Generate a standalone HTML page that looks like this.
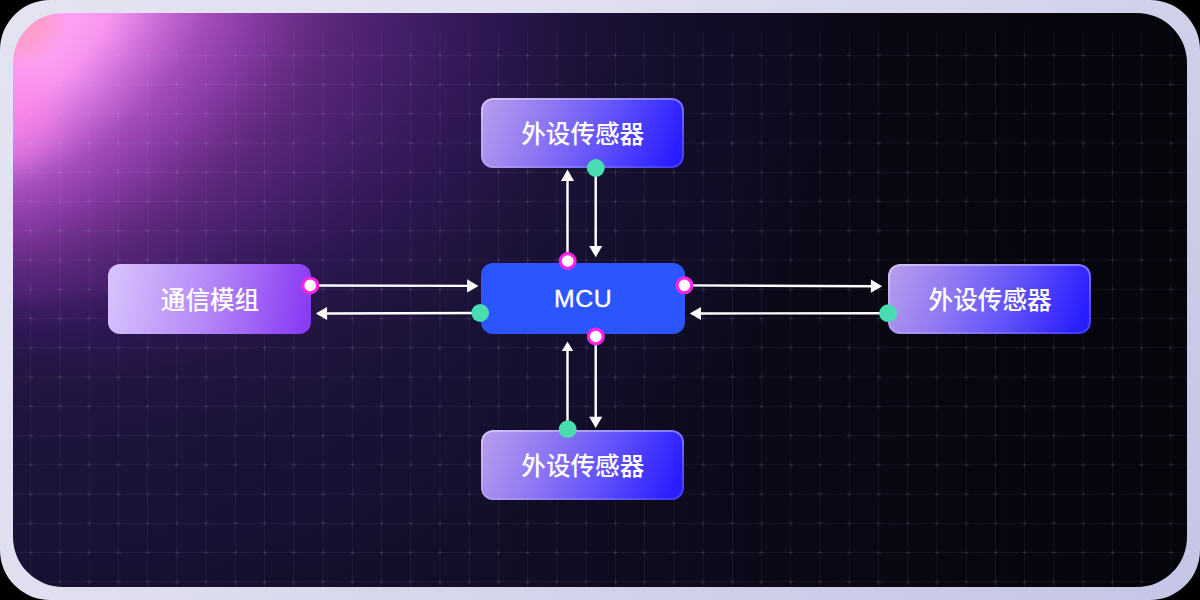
<!DOCTYPE html>
<html lang="zh"><head><meta charset="utf-8"><title>MCU diagram</title>
<style>
html,body{margin:0;padding:0;background:#000;}
body{width:1200px;height:600px;overflow:hidden;position:relative;font-family:"Liberation Sans",sans-serif;}
.frame{position:absolute;left:0;top:0;width:1200px;height:600px;border-radius:50px;background:linear-gradient(130deg,#E3E3F2 0%,#DFDFF0 35%,#D0D0EA 70%,#C5C5E6 100%);}
.inner{position:absolute;left:13px;top:13px;width:1174px;height:574px;border-radius:44px;overflow:hidden;isolation:isolate;background:linear-gradient(90deg,#17102F 0%,#120E27 40%,#090814 70%,#05050C 100%);}
.g1{position:absolute;left:0;top:0;width:1174px;height:574px;mix-blend-mode:screen;background:linear-gradient(90deg,#FD9AEF 0px,#FD9AEF 64px,#F68EEA 97px,#E47DE2 117px,#D36ED8 133px,#C35ECC 151px,#9B40AD 195px,#7E2F94 238px,#622274 282px,#4A195C 325px,#3D1353 367px,#321149 400px,#270D3D 437px,#19082D 500px,#0E0519 567px,#080412 637px,#05030D 686px,#04020B 767px,#000000 845px),linear-gradient(100deg,#FD9AEF 0px,#FD9AEF 63px,#F68EEA 96px,#E47DE2 115px,#D36ED8 131px,#C35ECC 149px,#9B40AD 192px,#7E2F94 235px,#622274 278px,#4A195C 321px,#3D1353 363px,#321149 395px,#270D3D 433px,#19082D 496px,#0E0519 565px,#080412 635px,#05030D 683px,#04020B 765px,#000000 843px),linear-gradient(110deg,#FD9AEF 0px,#FD9AEF 61px,#F68EEA 92px,#E47DE2 110px,#D36ED8 126px,#C35ECC 142px,#9B40AD 184px,#7E2F94 226px,#622274 267px,#4A195C 310px,#3D1353 351px,#321149 383px,#270D3D 420px,#19082D 484px,#0E0519 554px,#080412 624px,#05030D 672px,#04020B 753px,#000000 831px),linear-gradient(120deg,#FD9AEF 0px,#FD9AEF 57px,#F68EEA 86px,#E47DE2 103px,#D36ED8 117px,#C35ECC 133px,#9B40AD 172px,#7E2F94 213px,#622274 253px,#4A195C 294px,#3D1353 334px,#321149 365px,#270D3D 401px,#19082D 464px,#0E0519 535px,#080412 604px,#05030D 651px,#04020B 731px,#000000 808px),linear-gradient(130deg,#FD9AEF 0px,#FD9AEF 54px,#F68EEA 81px,#E47DE2 97px,#D36ED8 111px,#C35ECC 126px,#9B40AD 162px,#7E2F94 202px,#622274 239px,#4A195C 278px,#3D1353 316px,#321149 344px,#270D3D 378px,#19082D 438px,#0E0519 508px,#080412 575px,#05030D 622px,#04020B 700px,#000000 775px),linear-gradient(140deg,#FD9AEF 0px,#FD9AEF 54px,#F68EEA 81px,#E47DE2 97px,#D36ED8 111px,#C35ECC 126px,#9B40AD 158px,#7E2F94 194px,#622274 229px,#4A195C 265px,#3D1353 298px,#321149 323px,#270D3D 353px,#19082D 407px,#0E0519 476px,#080412 541px,#05030D 585px,#04020B 661px,#000000 735px),linear-gradient(150deg,#FD9AEF 0px,#FD9AEF 57px,#F68EEA 86px,#E47DE2 103px,#D36ED8 117px,#C35ECC 133px,#9B40AD 163px,#7E2F94 194px,#622274 226px,#4A195C 257px,#3D1353 285px,#321149 306px,#270D3D 330px,#19082D 376px,#0E0519 440px,#080412 503px,#05030D 545px,#04020B 618px,#000000 689px),linear-gradient(160deg,#FD9AEF 0px,#FD9AEF 61px,#F68EEA 92px,#E47DE2 110px,#D36ED8 126px,#C35ECC 142px,#9B40AD 171px,#7E2F94 200px,#622274 228px,#4A195C 255px,#3D1353 279px,#321149 293px,#270D3D 311px,#19082D 348px,#0E0519 405px,#080412 465px,#05030D 506px,#04020B 576px,#000000 645px),linear-gradient(170deg,#FD9AEF 0px,#FD9AEF 63px,#F68EEA 96px,#E47DE2 115px,#D36ED8 131px,#C35ECC 149px,#9B40AD 179px,#7E2F94 206px,#622274 234px,#4A195C 258px,#3D1353 278px,#321149 288px,#270D3D 300px,#19082D 328px,#0E0519 377px,#080412 435px,#05030D 474px,#04020B 542px,#000000 609px),linear-gradient(180deg,#FD9AEF 0px,#FD9AEF 64px,#F68EEA 97px,#E47DE2 117px,#D36ED8 133px,#C35ECC 151px,#9B40AD 181px,#7E2F94 208px,#622274 236px,#4A195C 260px,#3D1353 279px,#321149 288px,#270D3D 297px,#19082D 320px,#0E0519 363px,#080412 420px,#05030D 459px,#04020B 525px,#000000 592px);background-blend-mode:darken;}
.g3{position:absolute;left:-45px;top:-45px;width:100px;height:100px;background:radial-gradient(closest-side,rgba(255,155,188,.9) 0%,rgba(255,155,190,.6) 55%,rgba(255,155,200,0) 100%);}
.g4{position:absolute;left:-60px;top:42px;width:120px;height:120px;background:radial-gradient(closest-side,rgba(255,120,225,.5) 0%,rgba(255,120,225,.3) 50%,rgba(255,120,225,0) 100%);}
.node{position:absolute;box-sizing:border-box;border-radius:12px;color:transparent;font-size:24px;line-height:70px;text-align:center;overflow:hidden;white-space:nowrap;}
.sensor{background:linear-gradient(111deg,#B89EED 0%,#9279F3 30%,#6152FA 60%,#2A1EFF 93%);}
.sensor::before{content:"";position:absolute;left:0;top:0;right:0;bottom:0;border-radius:12px;padding:2px;background:linear-gradient(180deg,rgba(255,255,255,.38),rgba(255,255,255,.22) 50%,rgba(255,255,255,.13));-webkit-mask:linear-gradient(#000 0 0) content-box,linear-gradient(#000 0 0);-webkit-mask-composite:xor;mask-composite:exclude;}
.comm{background:linear-gradient(100deg,#D8C5FC 0%,#B386F8 50%,#8736F4 100%);}
.mcu{background:#2A55FF;color:#fff;}
svg{position:absolute;left:0;top:0;}
</style></head><body>
<div class="frame">
<div class="inner"><div class="g1"></div><div class="g4"></div><div class="g3"></div></div>
<svg width="1200" height="600" viewBox="0 0 1200 600"><defs><clipPath id="c"><rect x="13" y="13" width="1174" height="574" rx="44"/></clipPath></defs><g clip-path="url(#c)"><path d="M30.70 31V587M59.94 31V587M89.17 31V587M118.41 31V587M147.64 31V587M176.88 31V587M206.11 31V587M235.35 31V587M264.58 31V587M293.82 31V587M323.05 31V587M352.29 31V587M381.52 31V587M410.76 31V587M439.99 31V587M469.23 31V587M498.46 31V587M527.70 31V587M556.93 31V587M586.17 31V587M615.40 31V587M644.64 31V587M673.87 31V587M703.11 31V587M732.34 31V587M761.58 31V587M790.81 31V587M820.05 31V587M849.28 31V587M878.52 31V587M907.75 31V587M936.99 31V587M966.22 31V587M995.46 31V587M1024.69 31V587M1053.93 31V587M1083.16 31V587M1112.39 31V587M1141.63 31V587M1170.86 31V587M13 55.30H1187M13 84.55H1187M13 113.80H1187M13 143.05H1187M13 172.30H1187M13 201.55H1187M13 230.80H1187M13 260.05H1187M13 289.30H1187M13 318.55H1187M13 347.80H1187M13 377.05H1187M13 406.30H1187M13 435.55H1187M13 464.80H1187M13 494.05H1187M13 523.30H1187M13 552.55H1187M13 581.80H1187" stroke="#BEB9DC" stroke-opacity="0.065" stroke-width="1" fill="none"/><path d="M28.10 55.30h5.2M30.70 52.70v5.2M28.10 84.55h5.2M30.70 81.95v5.2M28.10 113.80h5.2M30.70 111.20v5.2M28.10 143.05h5.2M30.70 140.45v5.2M28.10 172.30h5.2M30.70 169.70v5.2M28.10 201.55h5.2M30.70 198.95v5.2M28.10 230.80h5.2M30.70 228.20v5.2M28.10 260.05h5.2M30.70 257.45v5.2M28.10 289.30h5.2M30.70 286.70v5.2M28.10 318.55h5.2M30.70 315.95v5.2M28.10 347.80h5.2M30.70 345.20v5.2M28.10 377.05h5.2M30.70 374.45v5.2M28.10 406.30h5.2M30.70 403.70v5.2M28.10 435.55h5.2M30.70 432.95v5.2M28.10 464.80h5.2M30.70 462.20v5.2M28.10 494.05h5.2M30.70 491.45v5.2M28.10 523.30h5.2M30.70 520.70v5.2M28.10 552.55h5.2M30.70 549.95v5.2M28.10 581.80h5.2M30.70 579.20v5.2M57.34 55.30h5.2M59.94 52.70v5.2M57.34 84.55h5.2M59.94 81.95v5.2M57.34 113.80h5.2M59.94 111.20v5.2M57.34 143.05h5.2M59.94 140.45v5.2M57.34 172.30h5.2M59.94 169.70v5.2M57.34 201.55h5.2M59.94 198.95v5.2M57.34 230.80h5.2M59.94 228.20v5.2M57.34 260.05h5.2M59.94 257.45v5.2M57.34 289.30h5.2M59.94 286.70v5.2M57.34 318.55h5.2M59.94 315.95v5.2M57.34 347.80h5.2M59.94 345.20v5.2M57.34 377.05h5.2M59.94 374.45v5.2M57.34 406.30h5.2M59.94 403.70v5.2M57.34 435.55h5.2M59.94 432.95v5.2M57.34 464.80h5.2M59.94 462.20v5.2M57.34 494.05h5.2M59.94 491.45v5.2M57.34 523.30h5.2M59.94 520.70v5.2M57.34 552.55h5.2M59.94 549.95v5.2M57.34 581.80h5.2M59.94 579.20v5.2M86.57 55.30h5.2M89.17 52.70v5.2M86.57 84.55h5.2M89.17 81.95v5.2M86.57 113.80h5.2M89.17 111.20v5.2M86.57 143.05h5.2M89.17 140.45v5.2M86.57 172.30h5.2M89.17 169.70v5.2M86.57 201.55h5.2M89.17 198.95v5.2M86.57 230.80h5.2M89.17 228.20v5.2M86.57 260.05h5.2M89.17 257.45v5.2M86.57 289.30h5.2M89.17 286.70v5.2M86.57 318.55h5.2M89.17 315.95v5.2M86.57 347.80h5.2M89.17 345.20v5.2M86.57 377.05h5.2M89.17 374.45v5.2M86.57 406.30h5.2M89.17 403.70v5.2M86.57 435.55h5.2M89.17 432.95v5.2M86.57 464.80h5.2M89.17 462.20v5.2M86.57 494.05h5.2M89.17 491.45v5.2M86.57 523.30h5.2M89.17 520.70v5.2M86.57 552.55h5.2M89.17 549.95v5.2M86.57 581.80h5.2M89.17 579.20v5.2M115.81 55.30h5.2M118.41 52.70v5.2M115.81 84.55h5.2M118.41 81.95v5.2M115.81 113.80h5.2M118.41 111.20v5.2M115.81 143.05h5.2M118.41 140.45v5.2M115.81 172.30h5.2M118.41 169.70v5.2M115.81 201.55h5.2M118.41 198.95v5.2M115.81 230.80h5.2M118.41 228.20v5.2M115.81 260.05h5.2M118.41 257.45v5.2M115.81 289.30h5.2M118.41 286.70v5.2M115.81 318.55h5.2M118.41 315.95v5.2M115.81 347.80h5.2M118.41 345.20v5.2M115.81 377.05h5.2M118.41 374.45v5.2M115.81 406.30h5.2M118.41 403.70v5.2M115.81 435.55h5.2M118.41 432.95v5.2M115.81 464.80h5.2M118.41 462.20v5.2M115.81 494.05h5.2M118.41 491.45v5.2M115.81 523.30h5.2M118.41 520.70v5.2M115.81 552.55h5.2M118.41 549.95v5.2M115.81 581.80h5.2M118.41 579.20v5.2M145.04 55.30h5.2M147.64 52.70v5.2M145.04 84.55h5.2M147.64 81.95v5.2M145.04 113.80h5.2M147.64 111.20v5.2M145.04 143.05h5.2M147.64 140.45v5.2M145.04 172.30h5.2M147.64 169.70v5.2M145.04 201.55h5.2M147.64 198.95v5.2M145.04 230.80h5.2M147.64 228.20v5.2M145.04 260.05h5.2M147.64 257.45v5.2M145.04 289.30h5.2M147.64 286.70v5.2M145.04 318.55h5.2M147.64 315.95v5.2M145.04 347.80h5.2M147.64 345.20v5.2M145.04 377.05h5.2M147.64 374.45v5.2M145.04 406.30h5.2M147.64 403.70v5.2M145.04 435.55h5.2M147.64 432.95v5.2M145.04 464.80h5.2M147.64 462.20v5.2M145.04 494.05h5.2M147.64 491.45v5.2M145.04 523.30h5.2M147.64 520.70v5.2M145.04 552.55h5.2M147.64 549.95v5.2M145.04 581.80h5.2M147.64 579.20v5.2M174.28 55.30h5.2M176.88 52.70v5.2M174.28 84.55h5.2M176.88 81.95v5.2M174.28 113.80h5.2M176.88 111.20v5.2M174.28 143.05h5.2M176.88 140.45v5.2M174.28 172.30h5.2M176.88 169.70v5.2M174.28 201.55h5.2M176.88 198.95v5.2M174.28 230.80h5.2M176.88 228.20v5.2M174.28 260.05h5.2M176.88 257.45v5.2M174.28 289.30h5.2M176.88 286.70v5.2M174.28 318.55h5.2M176.88 315.95v5.2M174.28 347.80h5.2M176.88 345.20v5.2M174.28 377.05h5.2M176.88 374.45v5.2M174.28 406.30h5.2M176.88 403.70v5.2M174.28 435.55h5.2M176.88 432.95v5.2M174.28 464.80h5.2M176.88 462.20v5.2M174.28 494.05h5.2M176.88 491.45v5.2M174.28 523.30h5.2M176.88 520.70v5.2M174.28 552.55h5.2M176.88 549.95v5.2M174.28 581.80h5.2M176.88 579.20v5.2M203.51 55.30h5.2M206.11 52.70v5.2M203.51 84.55h5.2M206.11 81.95v5.2M203.51 113.80h5.2M206.11 111.20v5.2M203.51 143.05h5.2M206.11 140.45v5.2M203.51 172.30h5.2M206.11 169.70v5.2M203.51 201.55h5.2M206.11 198.95v5.2M203.51 230.80h5.2M206.11 228.20v5.2M203.51 260.05h5.2M206.11 257.45v5.2M203.51 289.30h5.2M206.11 286.70v5.2M203.51 318.55h5.2M206.11 315.95v5.2M203.51 347.80h5.2M206.11 345.20v5.2M203.51 377.05h5.2M206.11 374.45v5.2M203.51 406.30h5.2M206.11 403.70v5.2M203.51 435.55h5.2M206.11 432.95v5.2M203.51 464.80h5.2M206.11 462.20v5.2M203.51 494.05h5.2M206.11 491.45v5.2M203.51 523.30h5.2M206.11 520.70v5.2M203.51 552.55h5.2M206.11 549.95v5.2M203.51 581.80h5.2M206.11 579.20v5.2M232.75 55.30h5.2M235.35 52.70v5.2M232.75 84.55h5.2M235.35 81.95v5.2M232.75 113.80h5.2M235.35 111.20v5.2M232.75 143.05h5.2M235.35 140.45v5.2M232.75 172.30h5.2M235.35 169.70v5.2M232.75 201.55h5.2M235.35 198.95v5.2M232.75 230.80h5.2M235.35 228.20v5.2M232.75 260.05h5.2M235.35 257.45v5.2M232.75 289.30h5.2M235.35 286.70v5.2M232.75 318.55h5.2M235.35 315.95v5.2M232.75 347.80h5.2M235.35 345.20v5.2M232.75 377.05h5.2M235.35 374.45v5.2M232.75 406.30h5.2M235.35 403.70v5.2M232.75 435.55h5.2M235.35 432.95v5.2M232.75 464.80h5.2M235.35 462.20v5.2M232.75 494.05h5.2M235.35 491.45v5.2M232.75 523.30h5.2M235.35 520.70v5.2M232.75 552.55h5.2M235.35 549.95v5.2M232.75 581.80h5.2M235.35 579.20v5.2M261.98 55.30h5.2M264.58 52.70v5.2M261.98 84.55h5.2M264.58 81.95v5.2M261.98 113.80h5.2M264.58 111.20v5.2M261.98 143.05h5.2M264.58 140.45v5.2M261.98 172.30h5.2M264.58 169.70v5.2M261.98 201.55h5.2M264.58 198.95v5.2M261.98 230.80h5.2M264.58 228.20v5.2M261.98 260.05h5.2M264.58 257.45v5.2M261.98 289.30h5.2M264.58 286.70v5.2M261.98 318.55h5.2M264.58 315.95v5.2M261.98 347.80h5.2M264.58 345.20v5.2M261.98 377.05h5.2M264.58 374.45v5.2M261.98 406.30h5.2M264.58 403.70v5.2M261.98 435.55h5.2M264.58 432.95v5.2M261.98 464.80h5.2M264.58 462.20v5.2M261.98 494.05h5.2M264.58 491.45v5.2M261.98 523.30h5.2M264.58 520.70v5.2M261.98 552.55h5.2M264.58 549.95v5.2M261.98 581.80h5.2M264.58 579.20v5.2M291.22 55.30h5.2M293.82 52.70v5.2M291.22 84.55h5.2M293.82 81.95v5.2M291.22 113.80h5.2M293.82 111.20v5.2M291.22 143.05h5.2M293.82 140.45v5.2M291.22 172.30h5.2M293.82 169.70v5.2M291.22 201.55h5.2M293.82 198.95v5.2M291.22 230.80h5.2M293.82 228.20v5.2M291.22 260.05h5.2M293.82 257.45v5.2M291.22 289.30h5.2M293.82 286.70v5.2M291.22 318.55h5.2M293.82 315.95v5.2M291.22 347.80h5.2M293.82 345.20v5.2M291.22 377.05h5.2M293.82 374.45v5.2M291.22 406.30h5.2M293.82 403.70v5.2M291.22 435.55h5.2M293.82 432.95v5.2M291.22 464.80h5.2M293.82 462.20v5.2M291.22 494.05h5.2M293.82 491.45v5.2M291.22 523.30h5.2M293.82 520.70v5.2M291.22 552.55h5.2M293.82 549.95v5.2M291.22 581.80h5.2M293.82 579.20v5.2M320.45 55.30h5.2M323.05 52.70v5.2M320.45 84.55h5.2M323.05 81.95v5.2M320.45 113.80h5.2M323.05 111.20v5.2M320.45 143.05h5.2M323.05 140.45v5.2M320.45 172.30h5.2M323.05 169.70v5.2M320.45 201.55h5.2M323.05 198.95v5.2M320.45 230.80h5.2M323.05 228.20v5.2M320.45 260.05h5.2M323.05 257.45v5.2M320.45 289.30h5.2M323.05 286.70v5.2M320.45 318.55h5.2M323.05 315.95v5.2M320.45 347.80h5.2M323.05 345.20v5.2M320.45 377.05h5.2M323.05 374.45v5.2M320.45 406.30h5.2M323.05 403.70v5.2M320.45 435.55h5.2M323.05 432.95v5.2M320.45 464.80h5.2M323.05 462.20v5.2M320.45 494.05h5.2M323.05 491.45v5.2M320.45 523.30h5.2M323.05 520.70v5.2M320.45 552.55h5.2M323.05 549.95v5.2M320.45 581.80h5.2M323.05 579.20v5.2M349.69 55.30h5.2M352.29 52.70v5.2M349.69 84.55h5.2M352.29 81.95v5.2M349.69 113.80h5.2M352.29 111.20v5.2M349.69 143.05h5.2M352.29 140.45v5.2M349.69 172.30h5.2M352.29 169.70v5.2M349.69 201.55h5.2M352.29 198.95v5.2M349.69 230.80h5.2M352.29 228.20v5.2M349.69 260.05h5.2M352.29 257.45v5.2M349.69 289.30h5.2M352.29 286.70v5.2M349.69 318.55h5.2M352.29 315.95v5.2M349.69 347.80h5.2M352.29 345.20v5.2M349.69 377.05h5.2M352.29 374.45v5.2M349.69 406.30h5.2M352.29 403.70v5.2M349.69 435.55h5.2M352.29 432.95v5.2M349.69 464.80h5.2M352.29 462.20v5.2M349.69 494.05h5.2M352.29 491.45v5.2M349.69 523.30h5.2M352.29 520.70v5.2M349.69 552.55h5.2M352.29 549.95v5.2M349.69 581.80h5.2M352.29 579.20v5.2M378.92 55.30h5.2M381.52 52.70v5.2M378.92 84.55h5.2M381.52 81.95v5.2M378.92 113.80h5.2M381.52 111.20v5.2M378.92 143.05h5.2M381.52 140.45v5.2M378.92 172.30h5.2M381.52 169.70v5.2M378.92 201.55h5.2M381.52 198.95v5.2M378.92 230.80h5.2M381.52 228.20v5.2M378.92 260.05h5.2M381.52 257.45v5.2M378.92 289.30h5.2M381.52 286.70v5.2M378.92 318.55h5.2M381.52 315.95v5.2M378.92 347.80h5.2M381.52 345.20v5.2M378.92 377.05h5.2M381.52 374.45v5.2M378.92 406.30h5.2M381.52 403.70v5.2M378.92 435.55h5.2M381.52 432.95v5.2M378.92 464.80h5.2M381.52 462.20v5.2M378.92 494.05h5.2M381.52 491.45v5.2M378.92 523.30h5.2M381.52 520.70v5.2M378.92 552.55h5.2M381.52 549.95v5.2M378.92 581.80h5.2M381.52 579.20v5.2M408.16 55.30h5.2M410.76 52.70v5.2M408.16 84.55h5.2M410.76 81.95v5.2M408.16 113.80h5.2M410.76 111.20v5.2M408.16 143.05h5.2M410.76 140.45v5.2M408.16 172.30h5.2M410.76 169.70v5.2M408.16 201.55h5.2M410.76 198.95v5.2M408.16 230.80h5.2M410.76 228.20v5.2M408.16 260.05h5.2M410.76 257.45v5.2M408.16 289.30h5.2M410.76 286.70v5.2M408.16 318.55h5.2M410.76 315.95v5.2M408.16 347.80h5.2M410.76 345.20v5.2M408.16 377.05h5.2M410.76 374.45v5.2M408.16 406.30h5.2M410.76 403.70v5.2M408.16 435.55h5.2M410.76 432.95v5.2M408.16 464.80h5.2M410.76 462.20v5.2M408.16 494.05h5.2M410.76 491.45v5.2M408.16 523.30h5.2M410.76 520.70v5.2M408.16 552.55h5.2M410.76 549.95v5.2M408.16 581.80h5.2M410.76 579.20v5.2M437.39 55.30h5.2M439.99 52.70v5.2M437.39 84.55h5.2M439.99 81.95v5.2M437.39 113.80h5.2M439.99 111.20v5.2M437.39 143.05h5.2M439.99 140.45v5.2M437.39 172.30h5.2M439.99 169.70v5.2M437.39 201.55h5.2M439.99 198.95v5.2M437.39 230.80h5.2M439.99 228.20v5.2M437.39 260.05h5.2M439.99 257.45v5.2M437.39 289.30h5.2M439.99 286.70v5.2M437.39 318.55h5.2M439.99 315.95v5.2M437.39 347.80h5.2M439.99 345.20v5.2M437.39 377.05h5.2M439.99 374.45v5.2M437.39 406.30h5.2M439.99 403.70v5.2M437.39 435.55h5.2M439.99 432.95v5.2M437.39 464.80h5.2M439.99 462.20v5.2M437.39 494.05h5.2M439.99 491.45v5.2M437.39 523.30h5.2M439.99 520.70v5.2M437.39 552.55h5.2M439.99 549.95v5.2M437.39 581.80h5.2M439.99 579.20v5.2M466.63 55.30h5.2M469.23 52.70v5.2M466.63 84.55h5.2M469.23 81.95v5.2M466.63 113.80h5.2M469.23 111.20v5.2M466.63 143.05h5.2M469.23 140.45v5.2M466.63 172.30h5.2M469.23 169.70v5.2M466.63 201.55h5.2M469.23 198.95v5.2M466.63 230.80h5.2M469.23 228.20v5.2M466.63 260.05h5.2M469.23 257.45v5.2M466.63 289.30h5.2M469.23 286.70v5.2M466.63 318.55h5.2M469.23 315.95v5.2M466.63 347.80h5.2M469.23 345.20v5.2M466.63 377.05h5.2M469.23 374.45v5.2M466.63 406.30h5.2M469.23 403.70v5.2M466.63 435.55h5.2M469.23 432.95v5.2M466.63 464.80h5.2M469.23 462.20v5.2M466.63 494.05h5.2M469.23 491.45v5.2M466.63 523.30h5.2M469.23 520.70v5.2M466.63 552.55h5.2M469.23 549.95v5.2M466.63 581.80h5.2M469.23 579.20v5.2M495.86 55.30h5.2M498.46 52.70v5.2M495.86 84.55h5.2M498.46 81.95v5.2M495.86 113.80h5.2M498.46 111.20v5.2M495.86 143.05h5.2M498.46 140.45v5.2M495.86 172.30h5.2M498.46 169.70v5.2M495.86 201.55h5.2M498.46 198.95v5.2M495.86 230.80h5.2M498.46 228.20v5.2M495.86 260.05h5.2M498.46 257.45v5.2M495.86 289.30h5.2M498.46 286.70v5.2M495.86 318.55h5.2M498.46 315.95v5.2M495.86 347.80h5.2M498.46 345.20v5.2M495.86 377.05h5.2M498.46 374.45v5.2M495.86 406.30h5.2M498.46 403.70v5.2M495.86 435.55h5.2M498.46 432.95v5.2M495.86 464.80h5.2M498.46 462.20v5.2M495.86 494.05h5.2M498.46 491.45v5.2M495.86 523.30h5.2M498.46 520.70v5.2M495.86 552.55h5.2M498.46 549.95v5.2M495.86 581.80h5.2M498.46 579.20v5.2M525.10 55.30h5.2M527.70 52.70v5.2M525.10 84.55h5.2M527.70 81.95v5.2M525.10 113.80h5.2M527.70 111.20v5.2M525.10 143.05h5.2M527.70 140.45v5.2M525.10 172.30h5.2M527.70 169.70v5.2M525.10 201.55h5.2M527.70 198.95v5.2M525.10 230.80h5.2M527.70 228.20v5.2M525.10 260.05h5.2M527.70 257.45v5.2M525.10 289.30h5.2M527.70 286.70v5.2M525.10 318.55h5.2M527.70 315.95v5.2M525.10 347.80h5.2M527.70 345.20v5.2M525.10 377.05h5.2M527.70 374.45v5.2M525.10 406.30h5.2M527.70 403.70v5.2M525.10 435.55h5.2M527.70 432.95v5.2M525.10 464.80h5.2M527.70 462.20v5.2M525.10 494.05h5.2M527.70 491.45v5.2M525.10 523.30h5.2M527.70 520.70v5.2M525.10 552.55h5.2M527.70 549.95v5.2M525.10 581.80h5.2M527.70 579.20v5.2M554.33 55.30h5.2M556.93 52.70v5.2M554.33 84.55h5.2M556.93 81.95v5.2M554.33 113.80h5.2M556.93 111.20v5.2M554.33 143.05h5.2M556.93 140.45v5.2M554.33 172.30h5.2M556.93 169.70v5.2M554.33 201.55h5.2M556.93 198.95v5.2M554.33 230.80h5.2M556.93 228.20v5.2M554.33 260.05h5.2M556.93 257.45v5.2M554.33 289.30h5.2M556.93 286.70v5.2M554.33 318.55h5.2M556.93 315.95v5.2M554.33 347.80h5.2M556.93 345.20v5.2M554.33 377.05h5.2M556.93 374.45v5.2M554.33 406.30h5.2M556.93 403.70v5.2M554.33 435.55h5.2M556.93 432.95v5.2M554.33 464.80h5.2M556.93 462.20v5.2M554.33 494.05h5.2M556.93 491.45v5.2M554.33 523.30h5.2M556.93 520.70v5.2M554.33 552.55h5.2M556.93 549.95v5.2M554.33 581.80h5.2M556.93 579.20v5.2M583.57 55.30h5.2M586.17 52.70v5.2M583.57 84.55h5.2M586.17 81.95v5.2M583.57 113.80h5.2M586.17 111.20v5.2M583.57 143.05h5.2M586.17 140.45v5.2M583.57 172.30h5.2M586.17 169.70v5.2M583.57 201.55h5.2M586.17 198.95v5.2M583.57 230.80h5.2M586.17 228.20v5.2M583.57 260.05h5.2M586.17 257.45v5.2M583.57 289.30h5.2M586.17 286.70v5.2M583.57 318.55h5.2M586.17 315.95v5.2M583.57 347.80h5.2M586.17 345.20v5.2M583.57 377.05h5.2M586.17 374.45v5.2M583.57 406.30h5.2M586.17 403.70v5.2M583.57 435.55h5.2M586.17 432.95v5.2M583.57 464.80h5.2M586.17 462.20v5.2M583.57 494.05h5.2M586.17 491.45v5.2M583.57 523.30h5.2M586.17 520.70v5.2M583.57 552.55h5.2M586.17 549.95v5.2M583.57 581.80h5.2M586.17 579.20v5.2M612.80 55.30h5.2M615.40 52.70v5.2M612.80 84.55h5.2M615.40 81.95v5.2M612.80 113.80h5.2M615.40 111.20v5.2M612.80 143.05h5.2M615.40 140.45v5.2M612.80 172.30h5.2M615.40 169.70v5.2M612.80 201.55h5.2M615.40 198.95v5.2M612.80 230.80h5.2M615.40 228.20v5.2M612.80 260.05h5.2M615.40 257.45v5.2M612.80 289.30h5.2M615.40 286.70v5.2M612.80 318.55h5.2M615.40 315.95v5.2M612.80 347.80h5.2M615.40 345.20v5.2M612.80 377.05h5.2M615.40 374.45v5.2M612.80 406.30h5.2M615.40 403.70v5.2M612.80 435.55h5.2M615.40 432.95v5.2M612.80 464.80h5.2M615.40 462.20v5.2M612.80 494.05h5.2M615.40 491.45v5.2M612.80 523.30h5.2M615.40 520.70v5.2M612.80 552.55h5.2M615.40 549.95v5.2M612.80 581.80h5.2M615.40 579.20v5.2M642.04 55.30h5.2M644.64 52.70v5.2M642.04 84.55h5.2M644.64 81.95v5.2M642.04 113.80h5.2M644.64 111.20v5.2M642.04 143.05h5.2M644.64 140.45v5.2M642.04 172.30h5.2M644.64 169.70v5.2M642.04 201.55h5.2M644.64 198.95v5.2M642.04 230.80h5.2M644.64 228.20v5.2M642.04 260.05h5.2M644.64 257.45v5.2M642.04 289.30h5.2M644.64 286.70v5.2M642.04 318.55h5.2M644.64 315.95v5.2M642.04 347.80h5.2M644.64 345.20v5.2M642.04 377.05h5.2M644.64 374.45v5.2M642.04 406.30h5.2M644.64 403.70v5.2M642.04 435.55h5.2M644.64 432.95v5.2M642.04 464.80h5.2M644.64 462.20v5.2M642.04 494.05h5.2M644.64 491.45v5.2M642.04 523.30h5.2M644.64 520.70v5.2M642.04 552.55h5.2M644.64 549.95v5.2M642.04 581.80h5.2M644.64 579.20v5.2M671.27 55.30h5.2M673.87 52.70v5.2M671.27 84.55h5.2M673.87 81.95v5.2M671.27 113.80h5.2M673.87 111.20v5.2M671.27 143.05h5.2M673.87 140.45v5.2M671.27 172.30h5.2M673.87 169.70v5.2M671.27 201.55h5.2M673.87 198.95v5.2M671.27 230.80h5.2M673.87 228.20v5.2M671.27 260.05h5.2M673.87 257.45v5.2M671.27 289.30h5.2M673.87 286.70v5.2M671.27 318.55h5.2M673.87 315.95v5.2M671.27 347.80h5.2M673.87 345.20v5.2M671.27 377.05h5.2M673.87 374.45v5.2M671.27 406.30h5.2M673.87 403.70v5.2M671.27 435.55h5.2M673.87 432.95v5.2M671.27 464.80h5.2M673.87 462.20v5.2M671.27 494.05h5.2M673.87 491.45v5.2M671.27 523.30h5.2M673.87 520.70v5.2M671.27 552.55h5.2M673.87 549.95v5.2M671.27 581.80h5.2M673.87 579.20v5.2M700.51 55.30h5.2M703.11 52.70v5.2M700.51 84.55h5.2M703.11 81.95v5.2M700.51 113.80h5.2M703.11 111.20v5.2M700.51 143.05h5.2M703.11 140.45v5.2M700.51 172.30h5.2M703.11 169.70v5.2M700.51 201.55h5.2M703.11 198.95v5.2M700.51 230.80h5.2M703.11 228.20v5.2M700.51 260.05h5.2M703.11 257.45v5.2M700.51 289.30h5.2M703.11 286.70v5.2M700.51 318.55h5.2M703.11 315.95v5.2M700.51 347.80h5.2M703.11 345.20v5.2M700.51 377.05h5.2M703.11 374.45v5.2M700.51 406.30h5.2M703.11 403.70v5.2M700.51 435.55h5.2M703.11 432.95v5.2M700.51 464.80h5.2M703.11 462.20v5.2M700.51 494.05h5.2M703.11 491.45v5.2M700.51 523.30h5.2M703.11 520.70v5.2M700.51 552.55h5.2M703.11 549.95v5.2M700.51 581.80h5.2M703.11 579.20v5.2M729.74 55.30h5.2M732.34 52.70v5.2M729.74 84.55h5.2M732.34 81.95v5.2M729.74 113.80h5.2M732.34 111.20v5.2M729.74 143.05h5.2M732.34 140.45v5.2M729.74 172.30h5.2M732.34 169.70v5.2M729.74 201.55h5.2M732.34 198.95v5.2M729.74 230.80h5.2M732.34 228.20v5.2M729.74 260.05h5.2M732.34 257.45v5.2M729.74 289.30h5.2M732.34 286.70v5.2M729.74 318.55h5.2M732.34 315.95v5.2M729.74 347.80h5.2M732.34 345.20v5.2M729.74 377.05h5.2M732.34 374.45v5.2M729.74 406.30h5.2M732.34 403.70v5.2M729.74 435.55h5.2M732.34 432.95v5.2M729.74 464.80h5.2M732.34 462.20v5.2M729.74 494.05h5.2M732.34 491.45v5.2M729.74 523.30h5.2M732.34 520.70v5.2M729.74 552.55h5.2M732.34 549.95v5.2M729.74 581.80h5.2M732.34 579.20v5.2M758.98 55.30h5.2M761.58 52.70v5.2M758.98 84.55h5.2M761.58 81.95v5.2M758.98 113.80h5.2M761.58 111.20v5.2M758.98 143.05h5.2M761.58 140.45v5.2M758.98 172.30h5.2M761.58 169.70v5.2M758.98 201.55h5.2M761.58 198.95v5.2M758.98 230.80h5.2M761.58 228.20v5.2M758.98 260.05h5.2M761.58 257.45v5.2M758.98 289.30h5.2M761.58 286.70v5.2M758.98 318.55h5.2M761.58 315.95v5.2M758.98 347.80h5.2M761.58 345.20v5.2M758.98 377.05h5.2M761.58 374.45v5.2M758.98 406.30h5.2M761.58 403.70v5.2M758.98 435.55h5.2M761.58 432.95v5.2M758.98 464.80h5.2M761.58 462.20v5.2M758.98 494.05h5.2M761.58 491.45v5.2M758.98 523.30h5.2M761.58 520.70v5.2M758.98 552.55h5.2M761.58 549.95v5.2M758.98 581.80h5.2M761.58 579.20v5.2M788.21 55.30h5.2M790.81 52.70v5.2M788.21 84.55h5.2M790.81 81.95v5.2M788.21 113.80h5.2M790.81 111.20v5.2M788.21 143.05h5.2M790.81 140.45v5.2M788.21 172.30h5.2M790.81 169.70v5.2M788.21 201.55h5.2M790.81 198.95v5.2M788.21 230.80h5.2M790.81 228.20v5.2M788.21 260.05h5.2M790.81 257.45v5.2M788.21 289.30h5.2M790.81 286.70v5.2M788.21 318.55h5.2M790.81 315.95v5.2M788.21 347.80h5.2M790.81 345.20v5.2M788.21 377.05h5.2M790.81 374.45v5.2M788.21 406.30h5.2M790.81 403.70v5.2M788.21 435.55h5.2M790.81 432.95v5.2M788.21 464.80h5.2M790.81 462.20v5.2M788.21 494.05h5.2M790.81 491.45v5.2M788.21 523.30h5.2M790.81 520.70v5.2M788.21 552.55h5.2M790.81 549.95v5.2M788.21 581.80h5.2M790.81 579.20v5.2M817.45 55.30h5.2M820.05 52.70v5.2M817.45 84.55h5.2M820.05 81.95v5.2M817.45 113.80h5.2M820.05 111.20v5.2M817.45 143.05h5.2M820.05 140.45v5.2M817.45 172.30h5.2M820.05 169.70v5.2M817.45 201.55h5.2M820.05 198.95v5.2M817.45 230.80h5.2M820.05 228.20v5.2M817.45 260.05h5.2M820.05 257.45v5.2M817.45 289.30h5.2M820.05 286.70v5.2M817.45 318.55h5.2M820.05 315.95v5.2M817.45 347.80h5.2M820.05 345.20v5.2M817.45 377.05h5.2M820.05 374.45v5.2M817.45 406.30h5.2M820.05 403.70v5.2M817.45 435.55h5.2M820.05 432.95v5.2M817.45 464.80h5.2M820.05 462.20v5.2M817.45 494.05h5.2M820.05 491.45v5.2M817.45 523.30h5.2M820.05 520.70v5.2M817.45 552.55h5.2M820.05 549.95v5.2M817.45 581.80h5.2M820.05 579.20v5.2M846.68 55.30h5.2M849.28 52.70v5.2M846.68 84.55h5.2M849.28 81.95v5.2M846.68 113.80h5.2M849.28 111.20v5.2M846.68 143.05h5.2M849.28 140.45v5.2M846.68 172.30h5.2M849.28 169.70v5.2M846.68 201.55h5.2M849.28 198.95v5.2M846.68 230.80h5.2M849.28 228.20v5.2M846.68 260.05h5.2M849.28 257.45v5.2M846.68 289.30h5.2M849.28 286.70v5.2M846.68 318.55h5.2M849.28 315.95v5.2M846.68 347.80h5.2M849.28 345.20v5.2M846.68 377.05h5.2M849.28 374.45v5.2M846.68 406.30h5.2M849.28 403.70v5.2M846.68 435.55h5.2M849.28 432.95v5.2M846.68 464.80h5.2M849.28 462.20v5.2M846.68 494.05h5.2M849.28 491.45v5.2M846.68 523.30h5.2M849.28 520.70v5.2M846.68 552.55h5.2M849.28 549.95v5.2M846.68 581.80h5.2M849.28 579.20v5.2M875.92 55.30h5.2M878.52 52.70v5.2M875.92 84.55h5.2M878.52 81.95v5.2M875.92 113.80h5.2M878.52 111.20v5.2M875.92 143.05h5.2M878.52 140.45v5.2M875.92 172.30h5.2M878.52 169.70v5.2M875.92 201.55h5.2M878.52 198.95v5.2M875.92 230.80h5.2M878.52 228.20v5.2M875.92 260.05h5.2M878.52 257.45v5.2M875.92 289.30h5.2M878.52 286.70v5.2M875.92 318.55h5.2M878.52 315.95v5.2M875.92 347.80h5.2M878.52 345.20v5.2M875.92 377.05h5.2M878.52 374.45v5.2M875.92 406.30h5.2M878.52 403.70v5.2M875.92 435.55h5.2M878.52 432.95v5.2M875.92 464.80h5.2M878.52 462.20v5.2M875.92 494.05h5.2M878.52 491.45v5.2M875.92 523.30h5.2M878.52 520.70v5.2M875.92 552.55h5.2M878.52 549.95v5.2M875.92 581.80h5.2M878.52 579.20v5.2M905.15 55.30h5.2M907.75 52.70v5.2M905.15 84.55h5.2M907.75 81.95v5.2M905.15 113.80h5.2M907.75 111.20v5.2M905.15 143.05h5.2M907.75 140.45v5.2M905.15 172.30h5.2M907.75 169.70v5.2M905.15 201.55h5.2M907.75 198.95v5.2M905.15 230.80h5.2M907.75 228.20v5.2M905.15 260.05h5.2M907.75 257.45v5.2M905.15 289.30h5.2M907.75 286.70v5.2M905.15 318.55h5.2M907.75 315.95v5.2M905.15 347.80h5.2M907.75 345.20v5.2M905.15 377.05h5.2M907.75 374.45v5.2M905.15 406.30h5.2M907.75 403.70v5.2M905.15 435.55h5.2M907.75 432.95v5.2M905.15 464.80h5.2M907.75 462.20v5.2M905.15 494.05h5.2M907.75 491.45v5.2M905.15 523.30h5.2M907.75 520.70v5.2M905.15 552.55h5.2M907.75 549.95v5.2M905.15 581.80h5.2M907.75 579.20v5.2M934.39 55.30h5.2M936.99 52.70v5.2M934.39 84.55h5.2M936.99 81.95v5.2M934.39 113.80h5.2M936.99 111.20v5.2M934.39 143.05h5.2M936.99 140.45v5.2M934.39 172.30h5.2M936.99 169.70v5.2M934.39 201.55h5.2M936.99 198.95v5.2M934.39 230.80h5.2M936.99 228.20v5.2M934.39 260.05h5.2M936.99 257.45v5.2M934.39 289.30h5.2M936.99 286.70v5.2M934.39 318.55h5.2M936.99 315.95v5.2M934.39 347.80h5.2M936.99 345.20v5.2M934.39 377.05h5.2M936.99 374.45v5.2M934.39 406.30h5.2M936.99 403.70v5.2M934.39 435.55h5.2M936.99 432.95v5.2M934.39 464.80h5.2M936.99 462.20v5.2M934.39 494.05h5.2M936.99 491.45v5.2M934.39 523.30h5.2M936.99 520.70v5.2M934.39 552.55h5.2M936.99 549.95v5.2M934.39 581.80h5.2M936.99 579.20v5.2M963.62 55.30h5.2M966.22 52.70v5.2M963.62 84.55h5.2M966.22 81.95v5.2M963.62 113.80h5.2M966.22 111.20v5.2M963.62 143.05h5.2M966.22 140.45v5.2M963.62 172.30h5.2M966.22 169.70v5.2M963.62 201.55h5.2M966.22 198.95v5.2M963.62 230.80h5.2M966.22 228.20v5.2M963.62 260.05h5.2M966.22 257.45v5.2M963.62 289.30h5.2M966.22 286.70v5.2M963.62 318.55h5.2M966.22 315.95v5.2M963.62 347.80h5.2M966.22 345.20v5.2M963.62 377.05h5.2M966.22 374.45v5.2M963.62 406.30h5.2M966.22 403.70v5.2M963.62 435.55h5.2M966.22 432.95v5.2M963.62 464.80h5.2M966.22 462.20v5.2M963.62 494.05h5.2M966.22 491.45v5.2M963.62 523.30h5.2M966.22 520.70v5.2M963.62 552.55h5.2M966.22 549.95v5.2M963.62 581.80h5.2M966.22 579.20v5.2M992.86 55.30h5.2M995.46 52.70v5.2M992.86 84.55h5.2M995.46 81.95v5.2M992.86 113.80h5.2M995.46 111.20v5.2M992.86 143.05h5.2M995.46 140.45v5.2M992.86 172.30h5.2M995.46 169.70v5.2M992.86 201.55h5.2M995.46 198.95v5.2M992.86 230.80h5.2M995.46 228.20v5.2M992.86 260.05h5.2M995.46 257.45v5.2M992.86 289.30h5.2M995.46 286.70v5.2M992.86 318.55h5.2M995.46 315.95v5.2M992.86 347.80h5.2M995.46 345.20v5.2M992.86 377.05h5.2M995.46 374.45v5.2M992.86 406.30h5.2M995.46 403.70v5.2M992.86 435.55h5.2M995.46 432.95v5.2M992.86 464.80h5.2M995.46 462.20v5.2M992.86 494.05h5.2M995.46 491.45v5.2M992.86 523.30h5.2M995.46 520.70v5.2M992.86 552.55h5.2M995.46 549.95v5.2M992.86 581.80h5.2M995.46 579.20v5.2M1022.09 55.30h5.2M1024.69 52.70v5.2M1022.09 84.55h5.2M1024.69 81.95v5.2M1022.09 113.80h5.2M1024.69 111.20v5.2M1022.09 143.05h5.2M1024.69 140.45v5.2M1022.09 172.30h5.2M1024.69 169.70v5.2M1022.09 201.55h5.2M1024.69 198.95v5.2M1022.09 230.80h5.2M1024.69 228.20v5.2M1022.09 260.05h5.2M1024.69 257.45v5.2M1022.09 289.30h5.2M1024.69 286.70v5.2M1022.09 318.55h5.2M1024.69 315.95v5.2M1022.09 347.80h5.2M1024.69 345.20v5.2M1022.09 377.05h5.2M1024.69 374.45v5.2M1022.09 406.30h5.2M1024.69 403.70v5.2M1022.09 435.55h5.2M1024.69 432.95v5.2M1022.09 464.80h5.2M1024.69 462.20v5.2M1022.09 494.05h5.2M1024.69 491.45v5.2M1022.09 523.30h5.2M1024.69 520.70v5.2M1022.09 552.55h5.2M1024.69 549.95v5.2M1022.09 581.80h5.2M1024.69 579.20v5.2M1051.33 55.30h5.2M1053.93 52.70v5.2M1051.33 84.55h5.2M1053.93 81.95v5.2M1051.33 113.80h5.2M1053.93 111.20v5.2M1051.33 143.05h5.2M1053.93 140.45v5.2M1051.33 172.30h5.2M1053.93 169.70v5.2M1051.33 201.55h5.2M1053.93 198.95v5.2M1051.33 230.80h5.2M1053.93 228.20v5.2M1051.33 260.05h5.2M1053.93 257.45v5.2M1051.33 289.30h5.2M1053.93 286.70v5.2M1051.33 318.55h5.2M1053.93 315.95v5.2M1051.33 347.80h5.2M1053.93 345.20v5.2M1051.33 377.05h5.2M1053.93 374.45v5.2M1051.33 406.30h5.2M1053.93 403.70v5.2M1051.33 435.55h5.2M1053.93 432.95v5.2M1051.33 464.80h5.2M1053.93 462.20v5.2M1051.33 494.05h5.2M1053.93 491.45v5.2M1051.33 523.30h5.2M1053.93 520.70v5.2M1051.33 552.55h5.2M1053.93 549.95v5.2M1051.33 581.80h5.2M1053.93 579.20v5.2M1080.56 55.30h5.2M1083.16 52.70v5.2M1080.56 84.55h5.2M1083.16 81.95v5.2M1080.56 113.80h5.2M1083.16 111.20v5.2M1080.56 143.05h5.2M1083.16 140.45v5.2M1080.56 172.30h5.2M1083.16 169.70v5.2M1080.56 201.55h5.2M1083.16 198.95v5.2M1080.56 230.80h5.2M1083.16 228.20v5.2M1080.56 260.05h5.2M1083.16 257.45v5.2M1080.56 289.30h5.2M1083.16 286.70v5.2M1080.56 318.55h5.2M1083.16 315.95v5.2M1080.56 347.80h5.2M1083.16 345.20v5.2M1080.56 377.05h5.2M1083.16 374.45v5.2M1080.56 406.30h5.2M1083.16 403.70v5.2M1080.56 435.55h5.2M1083.16 432.95v5.2M1080.56 464.80h5.2M1083.16 462.20v5.2M1080.56 494.05h5.2M1083.16 491.45v5.2M1080.56 523.30h5.2M1083.16 520.70v5.2M1080.56 552.55h5.2M1083.16 549.95v5.2M1080.56 581.80h5.2M1083.16 579.20v5.2M1109.80 55.30h5.2M1112.39 52.70v5.2M1109.80 84.55h5.2M1112.39 81.95v5.2M1109.80 113.80h5.2M1112.39 111.20v5.2M1109.80 143.05h5.2M1112.39 140.45v5.2M1109.80 172.30h5.2M1112.39 169.70v5.2M1109.80 201.55h5.2M1112.39 198.95v5.2M1109.80 230.80h5.2M1112.39 228.20v5.2M1109.80 260.05h5.2M1112.39 257.45v5.2M1109.80 289.30h5.2M1112.39 286.70v5.2M1109.80 318.55h5.2M1112.39 315.95v5.2M1109.80 347.80h5.2M1112.39 345.20v5.2M1109.80 377.05h5.2M1112.39 374.45v5.2M1109.80 406.30h5.2M1112.39 403.70v5.2M1109.80 435.55h5.2M1112.39 432.95v5.2M1109.80 464.80h5.2M1112.39 462.20v5.2M1109.80 494.05h5.2M1112.39 491.45v5.2M1109.80 523.30h5.2M1112.39 520.70v5.2M1109.80 552.55h5.2M1112.39 549.95v5.2M1109.80 581.80h5.2M1112.39 579.20v5.2M1139.03 55.30h5.2M1141.63 52.70v5.2M1139.03 84.55h5.2M1141.63 81.95v5.2M1139.03 113.80h5.2M1141.63 111.20v5.2M1139.03 143.05h5.2M1141.63 140.45v5.2M1139.03 172.30h5.2M1141.63 169.70v5.2M1139.03 201.55h5.2M1141.63 198.95v5.2M1139.03 230.80h5.2M1141.63 228.20v5.2M1139.03 260.05h5.2M1141.63 257.45v5.2M1139.03 289.30h5.2M1141.63 286.70v5.2M1139.03 318.55h5.2M1141.63 315.95v5.2M1139.03 347.80h5.2M1141.63 345.20v5.2M1139.03 377.05h5.2M1141.63 374.45v5.2M1139.03 406.30h5.2M1141.63 403.70v5.2M1139.03 435.55h5.2M1141.63 432.95v5.2M1139.03 464.80h5.2M1141.63 462.20v5.2M1139.03 494.05h5.2M1141.63 491.45v5.2M1139.03 523.30h5.2M1141.63 520.70v5.2M1139.03 552.55h5.2M1141.63 549.95v5.2M1139.03 581.80h5.2M1141.63 579.20v5.2M1168.26 55.30h5.2M1170.86 52.70v5.2M1168.26 84.55h5.2M1170.86 81.95v5.2M1168.26 113.80h5.2M1170.86 111.20v5.2M1168.26 143.05h5.2M1170.86 140.45v5.2M1168.26 172.30h5.2M1170.86 169.70v5.2M1168.26 201.55h5.2M1170.86 198.95v5.2M1168.26 230.80h5.2M1170.86 228.20v5.2M1168.26 260.05h5.2M1170.86 257.45v5.2M1168.26 289.30h5.2M1170.86 286.70v5.2M1168.26 318.55h5.2M1170.86 315.95v5.2M1168.26 347.80h5.2M1170.86 345.20v5.2M1168.26 377.05h5.2M1170.86 374.45v5.2M1168.26 406.30h5.2M1170.86 403.70v5.2M1168.26 435.55h5.2M1170.86 432.95v5.2M1168.26 464.80h5.2M1170.86 462.20v5.2M1168.26 494.05h5.2M1170.86 491.45v5.2M1168.26 523.30h5.2M1170.86 520.70v5.2M1168.26 552.55h5.2M1170.86 549.95v5.2M1168.26 581.80h5.2M1170.86 579.20v5.2" stroke="#E8E4F6" stroke-opacity="0.095" stroke-width="1" fill="none"/></g></svg>
<svg width="1200" height="600" viewBox="0 0 1200 600"><defs><linearGradient id="fg" gradientUnits="userSpaceOnUse" x1="100.2" y1="-119.4" x2="1099.8" y2="719.4"><stop offset="0" stop-color="#E3E3F2"/><stop offset=".35" stop-color="#DFDFF0"/><stop offset=".7" stop-color="#D0D0EA"/><stop offset="1" stop-color="#C5C5E6"/></linearGradient></defs><path fill="url(#fg)" fill-rule="evenodd" d="M50 2H1150A48 48 0 0 1 1198 50V550A48 48 0 0 1 1150 598H50A48 48 0 0 1 2 550V50A48 48 0 0 1 50 2ZM63 13H1137A50 50 0 0 1 1187 63V537A50 50 0 0 1 1137 587H63A50 50 0 0 1 13 537V63A50 50 0 0 1 63 13Z"/></svg>
<div class="node sensor" style="left:481px;top:97.9px;width:203px;height:70.5px;">外设传感器</div>
<div class="node sensor" style="left:481px;top:429.9px;width:203px;height:70.6px;">外设传感器</div>
<div class="node sensor" style="left:888.1px;top:263.8px;width:203.1px;height:70.6px;">外设传感器</div>
<div class="node comm" style="left:108px;top:263.8px;width:203px;height:70.6px;">通信模组</div>
<div class="node mcu" style="left:480.6px;top:262.7px;width:204.4px;height:71.7px;line-height:72.4px;font-size:24.8px;letter-spacing:.6px;text-indent:.6px;-webkit-text-stroke:.35px #fff;">MCU</div>
<svg width="1200" height="600" viewBox="0 0 1200 600"><text x="521.2" y="143" font-size="24.6" fill="#fff" font-family="&quot;Liberation Sans&quot;, &quot;Noto Sans CJK SC&quot;, sans-serif" font-weight="500">外设传感器</text><text x="521.3" y="475.3" font-size="24.6" fill="#fff" font-family="&quot;Liberation Sans&quot;, &quot;Noto Sans CJK SC&quot;, sans-serif" font-weight="500">外设传感器</text><text x="928.6" y="308.8" font-size="24.6" fill="#fff" font-family="&quot;Liberation Sans&quot;, &quot;Noto Sans CJK SC&quot;, sans-serif" font-weight="500">外设传感器</text><text x="160.8" y="308.6" font-size="24.6" fill="#fff" font-family="&quot;Liberation Sans&quot;, &quot;Noto Sans CJK SC&quot;, sans-serif" font-weight="500">通信模组</text><path d="M567.50 261.00L567.50 179.90" stroke="#fff" stroke-width="2.45" fill="none"/><path d="M567.50 169.60L574.05 180.90L560.95 180.90Z" fill="#fff"/><path d="M595.70 168.00L595.70 246.90" stroke="#fff" stroke-width="2.45" fill="none"/><path d="M595.70 257.20L589.15 245.90L602.25 245.90Z" fill="#fff"/><path d="M567.50 429.20L567.50 350.00" stroke="#fff" stroke-width="2.45" fill="none"/><path d="M567.50 341.60L573.20 351.00L561.80 351.00Z" fill="#fff"/><path d="M595.70 336.50L595.70 417.70" stroke="#fff" stroke-width="2.45" fill="none"/><path d="M595.70 428.00L589.15 416.70L602.25 416.70Z" fill="#fff"/><path d="M310.20 285.40L468.10 285.87" stroke="#fff" stroke-width="2.45" fill="none"/><path d="M478.40 285.90L467.08 292.42L467.12 279.32Z" fill="#fff"/><path d="M480.00 313.00L326.10 313.47" stroke="#fff" stroke-width="2.45" fill="none"/><path d="M315.80 313.50L327.08 306.92L327.12 320.02Z" fill="#fff"/><path d="M684.40 285.40L871.90 286.16" stroke="#fff" stroke-width="2.45" fill="none"/><path d="M882.20 286.20L870.87 292.70L870.93 279.60Z" fill="#fff"/><path d="M888.00 313.20L700.00 313.48" stroke="#fff" stroke-width="2.45" fill="none"/><path d="M689.70 313.50L700.99 306.93L701.01 320.03Z" fill="#fff"/><circle cx="567.7" cy="261" r="7.4" fill="#fff" stroke="#FD24E2" stroke-width="3.2"/><circle cx="684.4" cy="285.3" r="7.4" fill="#fff" stroke="#FD24E2" stroke-width="3.2"/><circle cx="595.8" cy="336.5" r="7.4" fill="#fff" stroke="#FD24E2" stroke-width="3.2"/><circle cx="310.2" cy="285.4" r="7.4" fill="#fff" stroke="#FD24E2" stroke-width="3.2"/><circle cx="595.8" cy="168" r="8.9" fill="#49DCB1"/><circle cx="480.2" cy="313" r="8.9" fill="#49DCB1"/><circle cx="567.7" cy="429.2" r="8.9" fill="#49DCB1"/><circle cx="888.1" cy="313.2" r="8.9" fill="#49DCB1"/></svg>
</div>
</body></html>
